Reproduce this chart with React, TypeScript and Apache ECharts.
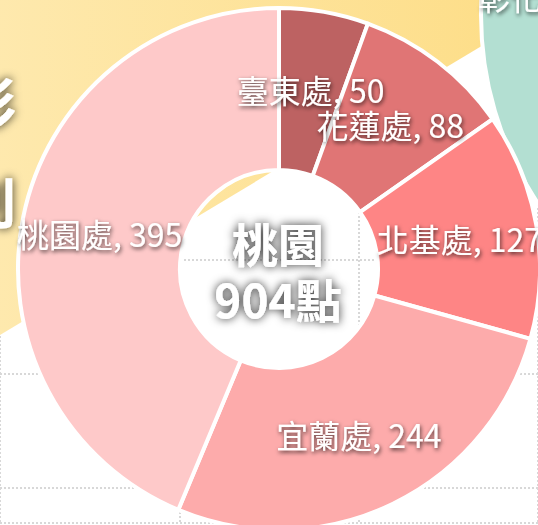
import React, { useEffect, useRef } from 'react';
import * as echarts from 'echarts';

const categories = ['臺東處', '花蓮處', '北基處', '宜蘭處', '桃園處'];
const values = [50, 88, 127, 244, 395];
const centerName = '桃園';
const unit = '點';
const neighbourLabel = '彰化處';
const leftLabel = '彩\n利';
const sliceColors = ['#bd6262', '#e07575', '#fe8585', '#fdabab', '#fec9c9'];

const FONT = '"Noto Sans CJK TC", "Noto Sans", sans-serif';

export default function App() {
  const ref = useRef<HTMLDivElement>(null);
  useEffect(() => {
    const chart = echarts.init(ref.current!, null, { renderer: 'svg' });
    const total = values.reduce((a, b) => a + b, 0);
    const hidden = { axisLine: { show: false }, axisTick: { show: false }, axisLabel: { show: false } };
    const split = { show: true, lineStyle: { type: 'dotted', color: '#d8d8d8', width: 2 } };
    const labelShadow = {
      textShadowColor: 'rgba(0,0,0,0.7)',
      textShadowBlur: 4,
      textShadowOffsetX: 1,
      textShadowOffsetY: 2,
    };
    chart.setOption({
      animation: false,
      grid: { left: -40, right: -43, top: 32, bottom: 2 },
      xAxis: { type: 'value', min: 0, max: 3, interval: 1, ...hidden, splitLine: split },
      yAxis: { type: 'value', inverse: true, min: 0, max: 4.307, interval: 1, ...hidden, splitLine: split },
      graphic: {
        elements: [
          {
            type: 'polygon',
            z: 1,
            shape: { points: [[-10, 341], [-10, -10], [540, -10], [540, 11]] },
            style: {
              fill: new echarts.graphic.LinearGradient(0, 0, 1, 0, [
                { offset: 0, color: '#fee9ae' },
                { offset: 1, color: '#fddd86' },
              ]),
            },
          },
          {
            type: 'circle',
            z: 1,
            shape: { cx: 821, cy: 15, r: 340 },
            style: { fill: '#b3dfd2', stroke: '#fff', lineWidth: 4 },
          },
          {
            type: 'text',
            z: 5,
            x: 478,
            y: -4,
            style: {
              text: neighbourLabel,
              fill: '#fff',
              fontSize: 32,
              fontFamily: FONT,
              textAlign: 'left',
              textVerticalAlign: 'middle',
              ...labelShadow,
            },
          },
          {
            type: 'text',
            z: 5,
            x: 16,
            y: 150,
            style: {
              text: leftLabel,
              fill: '#fff',
              fontSize: 54,
              fontWeight: 'bold',
              lineHeight: 100,
              fontFamily: FONT,
              textAlign: 'right',
              textVerticalAlign: 'middle',
              textShadowColor: 'rgba(0,0,0,0.85)',
              textShadowBlur: 10,
            },
          },
          {
            type: 'text',
            z: 10,
            x: 278,
            y: 270,
            style: {
              text: `${centerName}\n${total}${unit}`,
              fill: '#fff',
              fontSize: 46,
              fontWeight: 'bold',
              lineHeight: 56,
              fontFamily: FONT,
              textAlign: 'center',
              textVerticalAlign: 'middle',
              textShadowColor: 'rgba(0,0,0,0.85)',
              textShadowBlur: 10,
            },
          },
        ],
      },
      series: [
        {
          type: 'pie',
          z: 3,
          center: [279, 269],
          radius: [99, 261],
          startAngle: 90,
          clockwise: true,
          avoidLabelOverlap: false,
          itemStyle: { borderColor: '#fff', borderWidth: 4 },
          label: {
            show: true,
            position: 'inside',
            formatter: '{b}, {c}',
            color: '#fff',
            fontSize: 32,
            fontFamily: FONT,
            ...labelShadow,
          },
          labelLine: { show: false },
          emphasis: { disabled: true },
          data: categories.map((name, i) => ({
            name,
            value: values[i],
            itemStyle: { color: sliceColors[i] },
          })),
        },
      ],
    });
    return () => chart.dispose();
  }, []);
  return <div ref={ref} style={{ position: 'fixed', left: 0, top: 0, width: 538, height: 525 }} />;
}
